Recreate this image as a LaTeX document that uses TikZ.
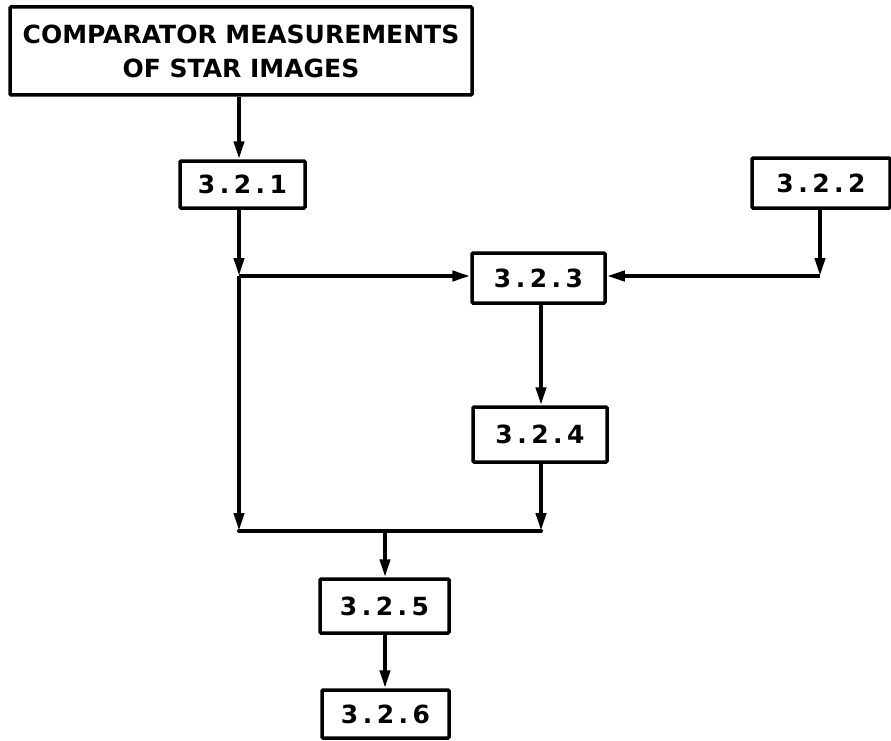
\documentclass[tikz,border=0pt]{standalone}
\usepackage{fontspec}
\setmainfont{DejaVu Sans}[BoldFont=DejaVu Sans Bold]
\newfontfamily\lettering{DejaVu Sans Bold}[LetterSpace=0]
\newfontfamily\numlettering{DejaVu Sans Bold}[LetterSpace=18]
\usetikzlibrary{arrows.meta}
\begin{document}
\begin{tikzpicture}[x=1pt,y=-1pt,
  box/.style={draw=black,line width=3.5pt,rectangle,inner sep=0pt,fill=white,rounded corners=1pt},
  numbox/.style={box,font=\numlettering\fontsize{25}{30}\selectfont},
  flow/.style={line width=4pt,-{Triangle[length=18pt,width=10pt]}},
  plain/.style={line width=4pt}]
\useasboundingbox (0,0) rectangle (891,741);
\fill[white] (0,0) rectangle (891,741);
% nodes
\node[box,minimum width=462pt,minimum height=88pt,align=center,
      font=\lettering\fontsize{25}{34}\selectfont] (top) at (241,51)
      {COMPARATOR MEASUREMENTS\\OF STAR IMAGES};
\node[numbox,minimum width=125pt,minimum height=47pt] (n321) at (242.5,184.5) {3.2.1};
\node[numbox,minimum width=138pt,minimum height=50pt] (n322) at (821,183) {3.2.2};
\node[numbox,minimum width=133pt,minimum height=50pt] (n323) at (538.5,278) {3.2.3};
\node[numbox,minimum width=134pt,minimum height=55pt] (n324) at (540,434.5) {3.2.4};
\node[numbox,minimum width=129pt,minimum height=54pt] (n325) at (384.5,606) {3.2.5};
\node[numbox,minimum width=127pt,minimum height=48pt] (n326) at (385.5,714) {3.2.6};
% junction points
\coordinate (j1) at (239,276);
\coordinate (j2) at (820,276);
\coordinate (jl) at (239,531);
\coordinate (jr) at (541,531);
\coordinate (jm) at (385,531);
% connectors
\draw[flow] (top.south -| j1) -- (n321.north -| j1);
\draw[flow] (n321.south -| j1) -- (j1);
\draw[flow] (j1) -- (n323.west |- j1);
\draw[flow] (n322.south -| j2) -- (j2);
\draw[flow] (j2) -- (n323.east |- j2);
\draw[flow] (j1) -- (jl);
\draw[flow] (n323.south -| jr) -- (n324.north -| jr);
\draw[flow] (n324.south -| jr) -- (jr);
\draw[plain,line cap=round] (jl) -- (jr);
\draw[flow] (jm) -- (n325.north -| jm);
\draw[flow] (n325.south -| jm) -- (n326.north -| jm);
\end{tikzpicture}
\end{document}
